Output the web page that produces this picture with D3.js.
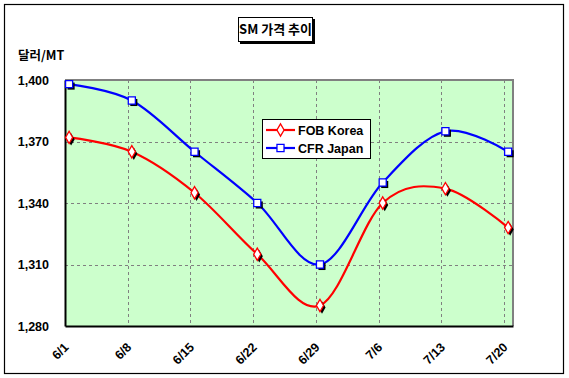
<!DOCTYPE html>
<html>
<head>
<meta charset="utf-8">
<script src="https://cdn.jsdelivr.net/npm/d3@7"></script>
<style>
  body { margin: 0; background: #fff; }
  text { font-family: "Liberation Sans", Arial, "Noto Sans CJK KR", sans-serif; font-weight: bold; }
</style>
</head>
<body>
<div id="chart"></div>
<script>
// data
var categories = ["6/1", "6/8", "6/15", "6/22", "6/29", "7/6", "7/13", "7/20"];
var fobKorea = [1372, 1365, 1345, 1315, 1290, 1340, 1347, 1328];
var cfrJapan = [1398, 1390, 1365, 1340, 1310, 1350, 1375, 1365];
var yTicks = [1280, 1310, 1340, 1370, 1400];

var width = 569, height = 378;
var plot = {left: 65, top: 80, right: 513, bottom: 326};

var svg = d3.select("#chart").append("svg")
    .attr("width", width)
    .attr("height", height);

// outer frame
svg.append("rect")
    .attr("x", 4.5).attr("y", 4.5)
    .attr("width", 559).attr("height", 369)
    .attr("fill", "#fff").attr("stroke", "#000").attr("stroke-width", 1.2);

function toDate(s) {
  var p = s.split("/");
  return new Date(2000, +p[0] - 1, +p[1]);
}
var dates = categories.map(toDate);
// points sit half a day after the gridline
var pointDates = dates.map(function(d) { return d3.timeHour.offset(d, 11); });

var x = d3.scaleTime()
    .domain([dates[0], d3.timeDay.offset(dates[dates.length - 1], 1)])
    .range([plot.left, plot.right]);
var y = d3.scaleLinear()
    .domain([1280, 1400])
    .range([plot.bottom, plot.top]);

// plot background
svg.append("rect")
    .attr("x", plot.left).attr("y", plot.top)
    .attr("width", plot.right - plot.left).attr("height", plot.bottom - plot.top)
    .attr("fill", "#ccffcc");

// gridlines
svg.append("g").selectAll("line")
    .data(yTicks.slice(1, -1))
  .enter().append("line")
    .attr("x1", plot.left).attr("x2", plot.right)
    .attr("y1", function(d) { return Math.round(y(d)) + 0.5; })
    .attr("y2", function(d) { return Math.round(y(d)) + 0.5; })
    .attr("stroke", "#808080").attr("stroke-dasharray", "3,3");
svg.append("g").selectAll("line")
    .data(dates.slice(1))
  .enter().append("line")
    .attr("x1", function(d) { return Math.round(x(d)) + 0.5; })
    .attr("x2", function(d) { return Math.round(x(d)) + 0.5; })
    .attr("y1", plot.top).attr("y2", plot.bottom)
    .attr("stroke", "#808080").attr("stroke-dasharray", "3,3");

// plot border (top/right gray)
svg.append("path")
    .attr("d", "M" + plot.left + "," + plot.top + "H" + plot.right + "V" + plot.bottom)
    .attr("fill", "none").attr("stroke", "#808080").attr("stroke-width", 2);

// axes
var yAxis = svg.append("g")
    .attr("transform", "translate(" + plot.left + ",0)")
    .call(d3.axisLeft(y).tickValues(yTicks).tickFormat(d3.format(",")).tickSize(0).tickPadding(16));
yAxis.select(".domain").attr("stroke", "#000").attr("stroke-width", 2);
yAxis.selectAll("text").style("font-size", "12.5px").attr("fill", "#000");

var xAxis = svg.append("g")
    .attr("transform", "translate(0," + plot.bottom + ")")
    .call(d3.axisBottom(x).tickValues(dates).tickFormat(function(d, i) { return categories[i]; }).tickSize(0));
xAxis.select(".domain").attr("stroke", "#000").attr("stroke-width", 2);
xAxis.selectAll("text")
    .style("font-size", "12.5px").attr("fill", "#000")
    .style("text-anchor", "end")
    .attr("dy", null).attr("y", 0)
    .attr("transform", "translate(4,22) rotate(-45)");

// series
var line = d3.line()
    .curve(d3.curveCardinal.tension(0))
    .x(function(d, i) { return x(pointDates[i]); })
    .y(function(d) { return y(d); });

var series = [
  {name: "FOB Korea", values: fobKorea, color: "#ff0000", shape: d3.symbolDiamond, size: 44},
  {name: "CFR Japan", values: cfrJapan, color: "#0000ff", shape: d3.symbolSquare, size: 50}
];

series.forEach(function(s) {
  svg.append("path")
      .datum(s.values)
      .attr("fill", "none")
      .attr("stroke", s.color)
      .attr("stroke-width", 2.2)
      .attr("d", line);
});

series.forEach(function(s) {
  var sym = d3.symbol().type(s.shape).size(s.size);
  var g = svg.append("g");
  g.selectAll(".shadow")
      .data(s.values)
    .enter().append("path")
      .attr("class", "shadow")
      .attr("d", sym)
      .attr("fill", "#000")
      .attr("transform", function(d, i) { return "translate(" + (x(pointDates[i]) + 2) + "," + (y(d) + 2) + ")"; });
  g.selectAll(".mark")
      .data(s.values)
    .enter().append("path")
      .attr("class", "mark")
      .attr("d", sym)
      .attr("fill", "#fff")
      .attr("stroke", s.color)
      .attr("stroke-width", 1.3)
      .attr("transform", function(d, i) { return "translate(" + x(pointDates[i]) + "," + y(d) + ")"; });
});

// legend
var legend = svg.append("g").attr("transform", "translate(262,119)");
legend.append("rect")
    .attr("x", 0.5).attr("y", 0.5).attr("width", 108).attr("height", 39)
    .attr("fill", "#fff").attr("stroke", "#000");
series.forEach(function(s, i) {
  var cy = 11 + i * 18;
  legend.append("line")
      .attr("x1", 4).attr("x2", 33).attr("y1", cy).attr("y2", cy)
      .attr("stroke", s.color).attr("stroke-width", 2.2);
  legend.append("path")
      .attr("d", d3.symbol().type(s.shape).size(s.size))
      .attr("transform", "translate(18.5," + cy + ")")
      .attr("fill", "#fff").attr("stroke", s.color).attr("stroke-width", 1.3);
  legend.append("text")
      .attr("x", 36).attr("y", cy + 4.5)
      .style("font-size", "12.5px")
      .text(s.name);
});

// title box
var title = svg.append("g").attr("transform", "translate(238,17)");
title.append("rect")
    .attr("x", 2).attr("y", 2).attr("width", 75).attr("height", 25).attr("fill", "#000");
title.append("rect")
    .attr("x", 0.5).attr("y", 0.5).attr("width", 74).attr("height", 24)
    .attr("fill", "#fff").attr("stroke", "#000");
title.append("text")
    .attr("x", 37.5).attr("y", 17)
    .style("text-anchor", "middle")
    .style("font-size", "13px")
    .style("font-family", "'Noto Sans CJK KR', sans-serif")
    .text("SM 가격 추이");

// unit label
svg.append("text")
    .attr("x", 18).attr("y", 60)
    .style("font-size", "12.5px")
    .style("font-family", "'Noto Sans CJK KR', sans-serif")
    .text("달러/MT");
</script>
</body>
</html>
